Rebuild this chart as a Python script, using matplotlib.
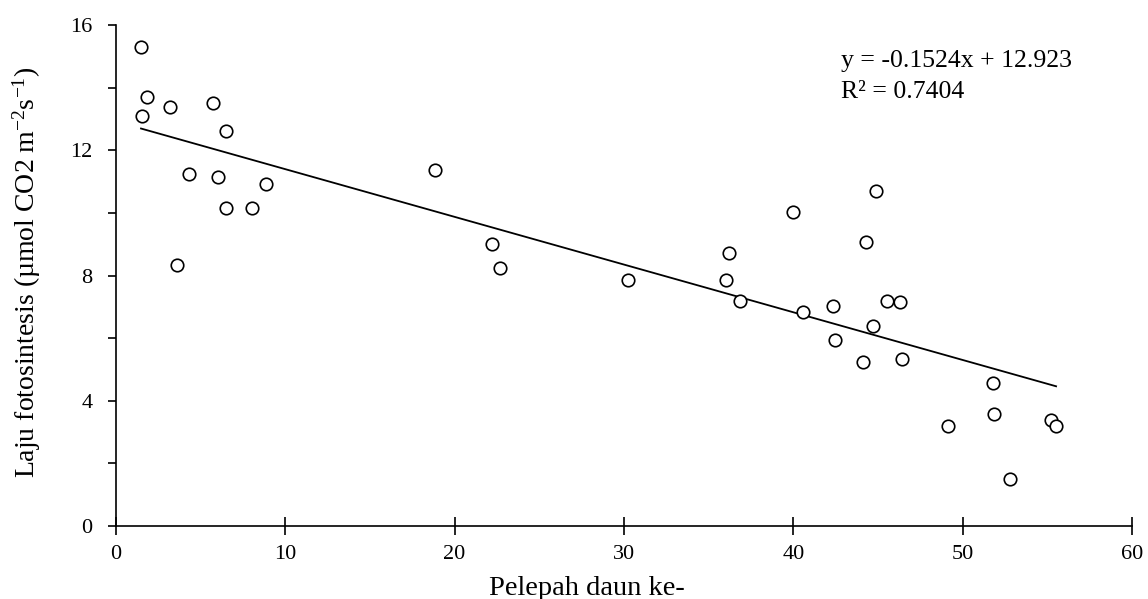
import numpy as np
import matplotlib
matplotlib.use('Agg')
import matplotlib.pyplot as plt

plt.rcParams['font.family'] = ['Liberation Serif', 'DejaVu Serif']
plt.rcParams['mathtext.fontset'] = 'custom'
plt.rcParams['mathtext.rm'] = 'Liberation Serif'
plt.rcParams['mathtext.it'] = 'Liberation Serif:italic'

# leaf frond number vs photosynthesis rate
pelepah = [1.48, 1.81, 1.56, 3.19, 5.73, 6.52, 4.29, 6.02, 8.86, 6.52, 8.03, 3.60,
           18.84, 22.19, 22.70, 30.24,
           44.91, 39.97, 44.30, 36.23, 36.03, 36.84, 40.58, 42.37, 45.52, 46.33,
           44.71, 42.49, 44.10, 46.43, 51.78, 51.88, 49.16, 55.21, 55.52, 52.79]
laju = [15.31, 13.72, 13.11, 13.39, 13.50, 12.63, 11.26, 11.15, 10.93, 10.15, 10.15, 8.35,
        11.36, 9.02, 8.24, 7.86,
        10.70, 10.04, 9.06, 8.73, 7.86, 7.20, 6.83, 7.04, 7.20, 7.15,
        6.39, 5.94, 5.23, 5.34, 4.58, 3.59, 3.20, 3.38, 3.20, 1.50]

slope = -0.1524
intercept = 12.923
r2 = 0.7404

fig = plt.figure(figsize=(11.48, 5.99), dpi=100)
ax = fig.add_axes([0.101, 0.122, 0.885, 0.836])

ax.plot(pelepah, laju, 'o', ms=9.0, mfc='white', mec='black', mew=1.2, ls='none', zorder=3)

xl = np.array([min(pelepah), max(pelepah)])
ax.plot(xl, slope * xl + intercept, color='black', lw=1.3, zorder=2)

ax.set_xlim(0, 60)
ax.set_ylim(0, 16)
ax.set_xticks([0, 10, 20, 30, 40, 50, 60])
ax.set_yticks(np.arange(0, 17, 2))
ax.set_yticklabels(['0', '', '4', '', '8', '', '12', '', '16'])

for s in ['top', 'right']:
    ax.spines[s].set_visible(False)
for s in ['left', 'bottom']:
    ax.spines[s].set_linewidth(1.2)
ax.tick_params(axis='x', direction='inout', length=13, width=1.2, labelsize=16, pad=7)
ax.tick_params(axis='y', direction='out', length=6, width=1.2, labelsize=16, pad=11)

ax.set_xlabel('Pelepah daun ke-', fontsize=20.5)
ax.xaxis.set_label_coords(0.4636, -0.1)
ax.set_ylabel('Laju fotosintesis (µmol CO2 m$^{-2}$s$^{-1}$)', fontsize=20)
ax.yaxis.set_label_coords(-0.072, 0.506)

ax.text(0.7136, 0.917, 'y = -0.1524x + 12.923', transform=ax.transAxes,
        fontsize=18.5, va='baseline', ha='left')
ax.text(0.7136, 0.855, 'R² = 0.7404', transform=ax.transAxes,
        fontsize=18.5, va='baseline', ha='left')

fig.savefig('out.png', dpi=100)
